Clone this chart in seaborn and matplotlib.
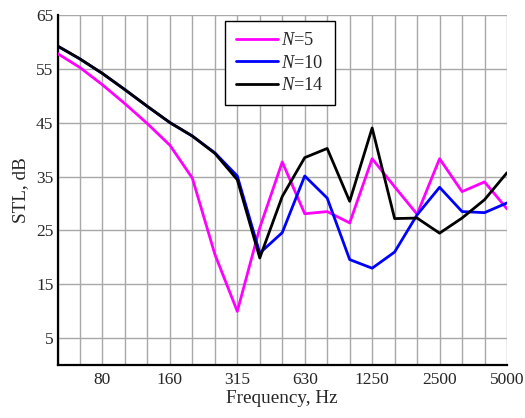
import matplotlib
matplotlib.use("Agg")
import matplotlib.pyplot as plt
import seaborn as sns
import pandas as pd
import numpy as np

freqs = ["50", "63", "80", "100", "125", "160", "200", "250", "315", "400", "500",
         "630", "800", "1000", "1250", "1600", "2000", "2500", "3150", "4000", "5000"]
shown_labels = ["80", "160", "315", "630", "1250", "2500", "5000"]
stl_n5 = [57.8, 55.2, 52.0, 48.5, 44.8, 40.8, 34.7, 20.6, 10.0, 25.5, 37.7,
          28.1, 28.5, 26.4, 38.3, 33.1, 28.0, 38.3, 32.2, 34.0, 29.0]
stl_n10 = [59.2, 56.8, 54.1, 51.1, 48.0, 45.0, 42.5, 39.4, 35.1, 20.8, 24.6,
           35.1, 31.0, 19.6, 18.0, 21.0, 27.9, 33.0, 28.5, 28.3, 30.1]
stl_n14 = [59.2, 56.8, 54.1, 51.1, 48.0, 45.0, 42.5, 39.3, 34.4, 19.9, 31.3,
           38.5, 40.2, 30.4, 44.0, 27.2, 27.3, 24.5, 27.3, 30.7, 35.7]
series_names = ["$N$=5", "$N$=10", "$N$=14"]
colors = ["#ff00ff", "#0000ff", "#000000"]

sns.set_style("white")
plt.rcParams["font.family"] = ["Liberation Serif", "DejaVu Serif"]
plt.rcParams["mathtext.fontset"] = "custom"
plt.rcParams["mathtext.it"] = "Liberation Serif:italic"
plt.rcParams["mathtext.rm"] = "Liberation Serif"

idx = np.arange(len(freqs))
df = pd.concat([
    pd.DataFrame({"x": idx, "STL": vals, "series": name})
    for name, vals in zip(series_names, [stl_n5, stl_n10, stl_n14])
])

fig = plt.figure(figsize=(5.25, 4.18), dpi=100)
ax = fig.add_axes([57.5 / 525, 1 - 365.3 / 418, (507 - 57.5) / 525, (365.3 - 14.7) / 418])

sns.lineplot(data=df, x="x", y="STL", hue="series", palette=colors,
             hue_order=series_names, linewidth=2, ax=ax, zorder=3)

ax.set_xlim(0, len(freqs) - 1)
ax.set_ylim(0, 65)
ax.set_xticks(idx)
ax.set_xticklabels([f if f in shown_labels else "" for f in freqs], fontsize=12.5)
ax.set_yticks(np.arange(5, 66, 10))
ax.set_yticks(np.arange(10, 61, 10), minor=True)
ax.tick_params(axis="y", labelsize=12.5, pad=3)
ax.tick_params(axis="x", pad=5)
ax.tick_params(axis="both", which="both", direction="in", length=4, width=1, color="black")

ax.grid(True, axis="x", which="major", color="#a8a8a8", linewidth=1)
ax.grid(True, axis="y", which="major", color="#a8a8a8", linewidth=1)
ax.set_axisbelow(True)

for s in ["top", "right"]:
    ax.spines[s].set_visible(False)
for s in ["left", "bottom"]:
    ax.spines[s].set_color("black")
    ax.spines[s].set_linewidth(1.6)

ax.set_xlabel("Frequency, Hz", fontsize=13.8, labelpad=1)
ax.set_ylabel("STL, dB", fontsize=13.8, labelpad=5)

leg = ax.legend(loc="upper left", bbox_to_anchor=((225 - 57.5) / 449.5, (365.3 - 21) / 350.6),
                borderaxespad=0, fancybox=False, framealpha=1, edgecolor="black",
                fontsize=13.2, handlelength=2.3, handletextpad=0.15, labelspacing=0.3,
                borderpad=0.6)
leg.get_frame().set_linewidth(1)
leg.set_title(None)

fig.savefig("out.png", dpi=100)
